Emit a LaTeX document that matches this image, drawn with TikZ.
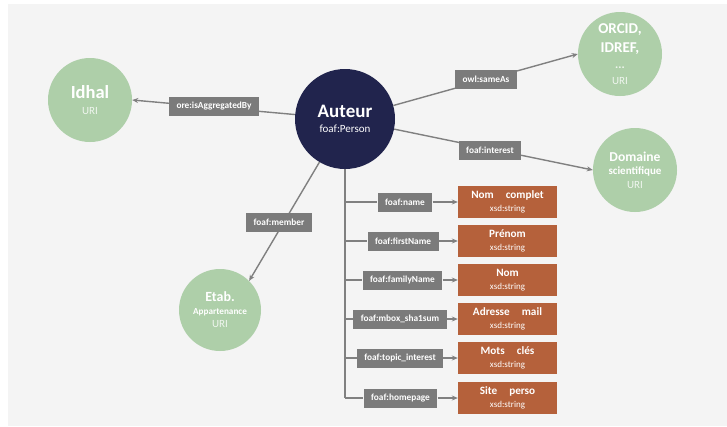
\documentclass[tikz,border=0pt]{standalone}
\usepackage{fontspec}
\setmainfont{Carlito}
\usetikzlibrary{arrows.meta}

\definecolor{panel}{HTML}{F4F4F4}
\definecolor{navy}{HTML}{21244D}
\definecolor{sage}{HTML}{AECFA9}
\definecolor{tagray}{HTML}{7B7B7B}
\definecolor{rust}{HTML}{B5613B}
\definecolor{wire}{HTML}{808080}
\colorlet{softwhite}{white!82!sage}

% font size and line pitch in one go
\newcommand{\fs}[2]{\fontsize{#1}{#2}\selectfont}

\tikzset{
  hub/.style={circle, fill=navy, minimum size=100pt, inner sep=0pt,
              text=white, align=center},
  res/.style={circle, fill=sage, inner sep=0pt, text=white, align=center},
  tag/.style={fill=tagray, text=white, font=\fs{9.3}{11}\bfseries,
              minimum height=19pt, inner xsep=7.5pt, inner ysep=0pt},
  lit/.style={fill=rust, text=white, minimum width=99pt, minimum height=32pt,
              inner sep=0pt, align=center, font=\fs{9}{12.5}},
  link/.style={draw=wire, line width=1.4pt},
  arr/.style={link, -{Stealth[length=6pt,width=5pt]}},
}

\newcommand{\littext}[1]{{\fs{11.2}{12.5}\bfseries #1}\\{\fs{9}{12.5}xsd:string}}
\newcommand{\uri}{{\fs{11}{13}\color{softwhite}URI}}

\begin{document}
\begin{tikzpicture}[x=1pt,y=-1pt]
  \useasboundingbox (0,0) rectangle (727,426);
  \fill[white] (0,0) rectangle (727,426);
  \fill[panel] (8,4) rectangle (727,426);

  % central resource and linked URIs
  \node[hub, font=\fs{11}{15.5}] (auteur) at (345,119)
    {{\fs{19}{15.5}\bfseries Auteur}\\{\fs{11}{15.5}foaf:Person}};
  \node[res, minimum size=84pt, font=\fs{11}{16}] (idhal) at (90,100)
    {{\fs{18.5}{16}\bfseries Idhal}\\\uri};
  \node[res, minimum size=84pt, font=\fs{11}{17}] (orcid) at (620,54)
    {{\fs{15}{17}\bfseries ORCID,}\\[2pt]{\fs{15}{17}\bfseries IDREF,}\\[-1pt]
     {\fs{12}{17}\bfseries\color{softwhite}...}\\[-0.5pt]\uri};
  \node[res, minimum size=84pt, font=\fs{11}{13.5}] (domaine) at (635,170)
    {{\fs{13.6}{13.5}\bfseries Domaine}\\{\fs{11}{13.5}\bfseries scientifique}\\\uri};
  \node[res, minimum size=82pt, font=\fs{11}{13}] (etab) at (220,310)
    {{\fs{14}{13}\bfseries Etab.}\\{\fs{9.2}{13}\bfseries Appartenance}\\\uri};

  % object properties
  \draw[arr] (auteur) -- (idhal.east);
  \draw[arr] (auteur) -- (orcid.west);
  \draw[arr] (auteur) -- (domaine.west);
  \draw[arr] (auteur) -- (etab.north east);

  \node[tag] (pAgg) at (214,106) {ore:isAggregatedBy};
  \node[tag] (pSame) at (486,79) {owl:sameAs};
  \node[tag] (pInt) at (490,150) {foaf:interest};
  \node[tag] (pMem) at (279,222) {foaf:member};

  % datatype properties
  \node[tag] (d1) at (405,202) {foaf:name};
  \node[tag] (d2) at (403,241) {foaf:firstName};
  \node[tag] (d3) at (402.5,280) {foaf:familyName};
  \node[tag] (d4) at (400,319) {foaf:mbox\_sha1sum};
  \node[tag] (d5) at (400,358) {foaf:topic\_interest};
  \node[tag] (d6) at (400.5,398) {foaf:homepage};

  \node[lit] (v1) at (507.5,202) {\littext{Nom\hspace{9.5pt} complet}};
  \node[lit] (v2) at (507.5,241) {\littext{Prénom}};
  \node[lit] (v3) at (507.5,280) {\littext{Nom}};
  \node[lit] (v4) at (507.5,319) {\littext{Adresse\hspace{9.5pt} mail}};
  \node[lit] (v5) at (507.5,358) {\littext{Mots\hspace{9.5pt} clés}};
  \node[lit] (v6) at (507.5,398) {\littext{Site\hspace{9.5pt} perso}};

  % trunk with one branch per property
  \coordinate (trunkEnd) at (auteur.south |- d6);
  \draw[link] (auteur.south) -- (trunkEnd);
  \foreach \i in {1,...,6} {
    \coordinate (b\i) at (auteur.south |- d\i);
    \draw[link] (b\i) -- (d\i.west);
    \draw[arr] (d\i.east) -- (v\i.west);
  }
\end{tikzpicture}
\end{document}
